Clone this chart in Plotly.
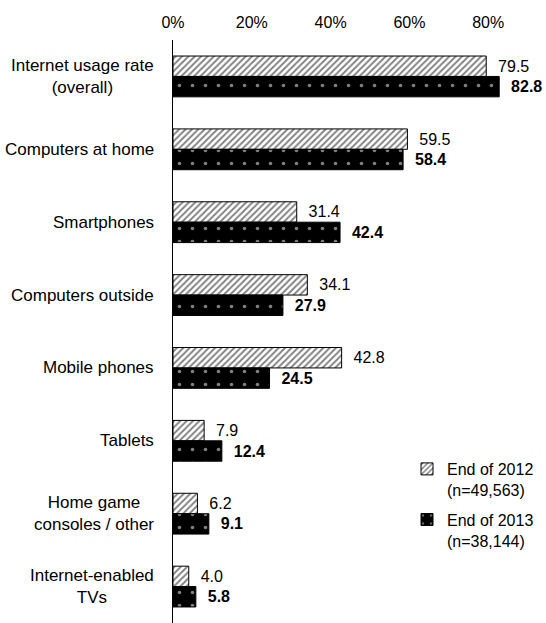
import plotly.graph_objects as go

categories = [
    "Internet usage rate<br>(overall)",
    "Computers at home",
    "Smartphones",
    "Computers outside",
    "Mobile phones",
    "Tablets",
    "Home game<br>consoles / other",
    "Internet-enabled<br>TVs",
]
values_2012 = [79.5, 59.5, 31.4, 34.1, 42.8, 7.9, 6.2, 4.0]
values_2013 = [82.8, 58.4, 42.4, 27.9, 24.5, 12.4, 9.1, 5.8]
series_names = ["End of 2012<br>(n=49,563)", "End of 2013<br>(n=38,144)"]
x_ticks = [0, 20, 40, 60, 80]
x_tick_labels = [f"{v}%" for v in x_ticks]

W, H = 546, 623
L, R, T, B = 173, 0, 40, 0
FONT = "Liberation Sans, Arial, sans-serif"
FS = 16
PAD = "\u00a0\u00a0"  # small gap between bar end and its value

fig = go.Figure()
fig.add_trace(go.Bar(
    y=categories, x=values_2012, orientation="h", name=series_names[0],
    legendgroup="y2012",
    marker=dict(color="white", line=dict(color="black", width=1),
                pattern=dict(shape="/", fgcolor="black", bgcolor="white",
                             size=4.5, solidity=0.4)),
    text=[f"{PAD}{v:.1f}" for v in values_2012], textposition="outside",
    textfont=dict(size=FS, color="black", family=FONT), cliponaxis=False,
))
fig.add_trace(go.Bar(
    y=categories, x=values_2013, orientation="h", name=series_names[1],
    legendgroup="y2013",
    marker=dict(color="black", line=dict(color="black", width=1),
                pattern=dict(shape=".", fgcolor="white", bgcolor="black",
                             size=13, solidity=0.06)),
    text=[f"{PAD}<b>{v:.1f}</b>" for v in values_2013], textposition="outside",
    textfont=dict(size=FS, color="black", family=FONT), cliponaxis=False,
))

plot_w = W - L - R
for c in categories:
    fig.add_annotation(
        x=-17 / plot_w, xref="paper", y=c, yref="y", text=c,
        xanchor="right", align="center", showarrow=False,
        font=dict(size=17, color="black", family=FONT),
    )

fig.update_layout(
    width=W, height=H, margin=dict(l=L, r=R, t=T, b=B),
    paper_bgcolor="white", plot_bgcolor="white",
    barmode="group", bargap=0.44, bargroupgap=0,
    font=dict(family=FONT, size=FS, color="black"),
    showlegend=True,
    legend=dict(x=(407 - L) / plot_w, y=1 - (452 - T) / (H - T - B),
                xanchor="left", yanchor="top", bgcolor="rgba(0,0,0,0)",
                font=dict(size=FS, family=FONT), tracegroupgap=6,
                valign="top", itemwidth=30),
    xaxis=dict(side="top", range=[0, plot_w / 3.94],
               tickvals=x_ticks, ticktext=x_tick_labels, showgrid=False,
               zeroline=False, showline=False, ticks="",
               ticklabelstandoff=8,
               tickfont=dict(size=FS, family=FONT, color="black")),
    yaxis=dict(autorange="reversed", showticklabels=False, showgrid=False,
               showline=True, linecolor="black", linewidth=1, ticks="",
               zeroline=False),
)

fig.write_html("out.html")
